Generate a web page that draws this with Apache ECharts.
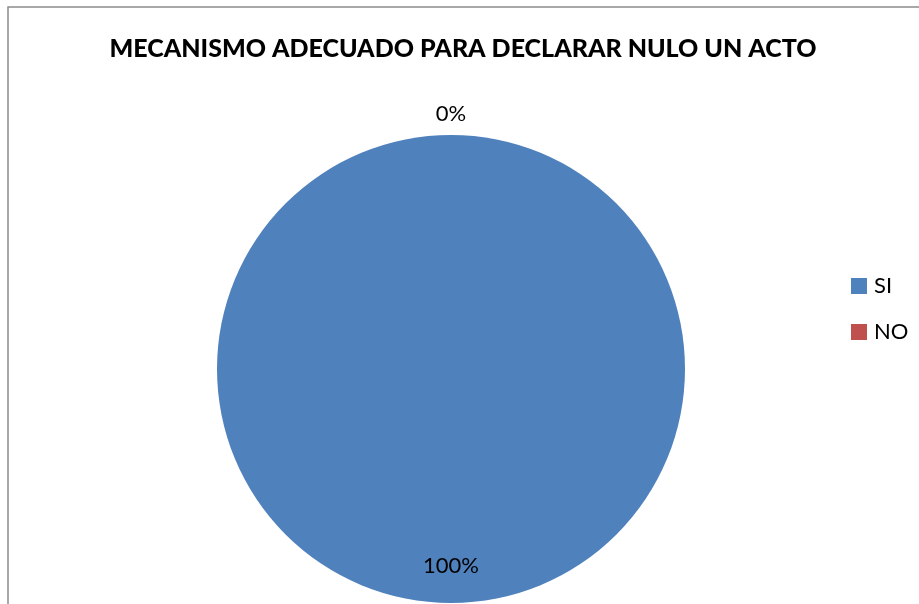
<!DOCTYPE html>
<html>
<head>
<meta charset="utf-8">
<script src="https://cdn.jsdelivr.net/npm/echarts@6/dist/echarts.min.js"></script>
<style>
html,body{margin:0;padding:0;background:#fff;}
#chart{width:919px;height:604px;}
</style>
</head>
<body>
<div id="chart"></div>
<script>
const titleText = 'MECANISMO ADECUADO PARA DECLARAR NULO UN ACTO';
const categories = ['SI', 'NO'];
const values = [100, 0];
const colors = ['#4F81BD', '#C0504D'];

const total = values.reduce((a, b) => a + b, 0);
const pct = v => Math.round(v / total * 100) + '%';
const baseData = categories.map((c, i) => ({ name: c, value: values[i], itemStyle: { color: colors[i] } }));

const chart = echarts.init(document.getElementById('chart'));
const FONT = 'Lato';
chart.setOption({
  animation: false,
  backgroundColor: '#fff',
  title: {
    text: titleText, left: 458, top: 31, textAlign: 'center',
    textStyle: { fontFamily: FONT, fontWeight: 900, fontSize: 25, color: '#000' }
  },
  legend: {
    orient: 'vertical', left: 846, top: 270,
    icon: 'rect', itemWidth: 16, itemHeight: 16, itemGap: 24,
    data: categories,
    textStyle: { fontFamily: FONT, fontSize: 22, color: '#000', padding: [0, 0, 0, 2] }
  },
  graphic: [{
    type: 'rect', shape: { x: 8, y: 7, width: 2000, height: 2000 },
    style: { fill: 'none', stroke: '#8c8c8c', lineWidth: 1.5 }, silent: true
  }],
  series: [
    {
      type: 'pie', center: [451, 369], radius: [0, 234], startAngle: 90, clockwise: true,
      label: { show: false }, labelLine: { show: false },
      data: baseData
    },
    {
      type: 'pie', center: [451, 369], radius: [160, 228], startAngle: 90, clockwise: true,
      silent: true, legendHoverLink: false,
      itemStyle: { color: 'rgba(0,0,0,0)' },
      label: { show: true, position: 'inside', fontFamily: FONT, fontSize: 22, color: '#000',
               formatter: p => p.dataIndex === 0 ? pct(p.value) : '' },
      labelLine: { show: false },
      data: categories.map((c, i) => ({ name: c + ' ', value: values[i] }))
    },
    {
      type: 'pie', center: [451, 369], radius: [234, 270], startAngle: 90, clockwise: true,
      silent: true, legendHoverLink: false,
      itemStyle: { color: 'rgba(0,0,0,0)' },
      label: { show: true, position: 'inside', fontFamily: FONT, fontSize: 22, color: '#000',
               formatter: p => p.dataIndex === 1 ? pct(p.value) : '' },
      labelLine: { show: false },
      data: categories.map((c, i) => ({ name: c + '  ', value: values[i] }))
    }
  ]
});
</script>
</body>
</html>
